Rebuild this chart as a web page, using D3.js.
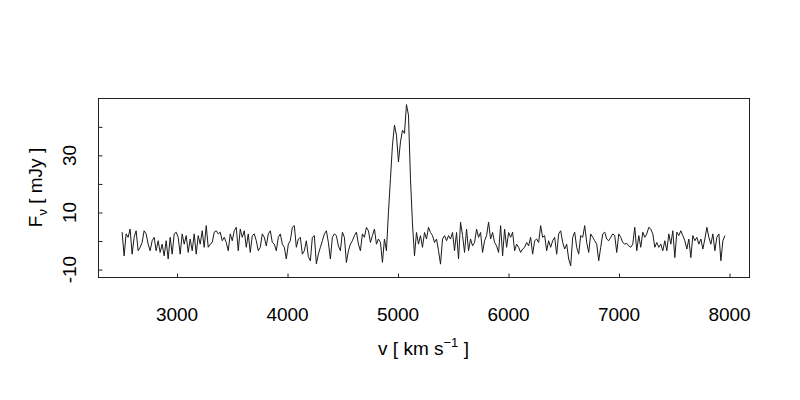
<!DOCTYPE html>
<html><head><meta charset="utf-8">
<script src="https://cdn.jsdelivr.net/npm/d3@7"></script>
<style>
body{margin:0;background:#fff}
svg text{font-family:"Liberation Sans",Arial,Helvetica,sans-serif;fill:#000}
</style>
</head><body>
<svg id="chart" width="800" height="400"></svg>
<script>
// Channel grid of the spectrum (km/s)
const vStart = 2503;
const vStep = 18.123;
// Flux density per channel (mJy)
const flux = [
 3.1,-5.2,2.5,1.3,4.2,-4.6,1.3,3.6,-3.4,-2.2,
 -0.5,3.6,2.5,-1.1,-3.4,0.1,1.3,-3.4,0.1,-4.0,
 -1.1,-5.2,0.1,-6.3,1.3,-4.6,2.5,3.1,1.3,-4.6,
 2.5,-1.1,1.9,-4.0,0.7,-3.4,2.5,-4.6,1.9,-1.1,
 3.6,-2.2,5.4,-2.2,-1.1,-0.5,3.1,3.6,2.5,3.1,
 0.1,1.3,-0.5,-3.4,2.5,0.1,3.6,4.8,-3.4,4.2,
 1.3,3.6,-2.2,2.5,
 -4.0,1.9,2.5,0.1,-3.4,-2.2,2.5,1.3,-1.7,2.5,
 3.6,-0.5,-1.1,-3.4,1.3,2.5,-1.1,-2.2,-6.3,-1.1,
 0.1,4.8,5.4,-2.2,0.7,1.3,-4.6,-3.4,0.1,-5.5,
 -6.9,1.3,1.9,-8.0,-4.6,-2.2,0.1,2.5,3.6,-0.5,
 -6.3,1.3,2.5,1.9,-1.7,-3.4,3.1,1.3,-7.5,-3.4,
 -1.1,0.1,1.9,3.1,-1.1,-3.4,2.5,1.3,4.8,3.6,
 -0.5,1.9,4.2,-1.1,0.7,
 -0.5,-7.5,0.7,-3.4,10.1,21.8,33.6,40.6,37.1,27.7,
 34.7,38.8,37.7,47.8,44.1,21.8,6.0,-5.2,3.0,-1.1,
 1.9,-2.2,3.0,0.7,4.8,3.0,1.9,-0.5,0.7,-3.4,
 -8.1,0.7,1.9,0.1,1.9,0.7,3.0,-3.4,3.0,-6.3,
 6.6,1.9,-4.0,4.2,-3.4,0.7,-1.7,-0.5,4.2,1.3,
 3.0,-4.0,0.1,1.9,6.6,0.7,3.0,-0.5,-1.7,-4.0,
 5.4,-5.2,4.2,-2.2,3.0,
 1.3,3.1,-3.4,-1.1,-2.2,-4.0,-2.8,-2.2,-0.5,-1.7,
 1.3,-4.6,0.1,0.7,-0.5,5.4,1.3,1.9,-3.4,0.1,
 -2.2,0.1,1.3,-4.6,2.5,3.6,-0.5,-2.8,-1.1,-6.3,
 -8.7,1.3,3.1,-2.2,-4.6,1.9,1.3,5.4,-0.5,-4.0,
 2.5,1.3,0.1,-1.1,-6.9,-2.2,2.5,3.1,0.7,0.1,
 1.3,2.5,1.9,-4.0,2.5,1.3,-0.5,-1.1,-0.8,-1.7,
 -2.2,-1.1,4.8,-3.4,1.9,
 -2.2,3.1,1.3,2.5,4.8,4.2,2.5,-2.2,-0.5,-2.2,
 -1.1,-3.4,0.1,-3.4,2.5,-1.1,3.6,-5.8,3.1,1.9,
 3.6,1.9,0.1,-2.8,0.7,-5.8,1.9,0.1,1.3,-1.1,
 0.7,-2.8,0.7,4.8,1.3,-1.1,2.5,-3.4,1.3,2.5,
 -6.9,0.1,1.9
];
const velocity = flux.map((_, i) => vStart + i * vStep);
const xTicks = [3000, 4000, 5000, 6000, 7000, 8000];
const yTicks = [-10, 0, 10, 20, 30, 40];
const yTickLabels = [-10, 10, 30];
const yDomain = [-12.6, 50.1];

const svg = d3.select("#chart");
svg.append("rect").attr("width", 800).attr("height", 400).attr("fill", "#fff");

const L = 98, R = 749, T = 98, B = 277;
const vExt = d3.extent(velocity);
const pad = (vExt[1] - vExt[0]) * 0.04;
const x = d3.scaleLinear().domain([vExt[0] - pad, vExt[1] + pad]).range([L, R]);
const y = d3.scaleLinear().domain(yDomain).range([B, T]);

// spectrum line
const line = d3.line().x((d, i) => x(velocity[i])).y(d => y(d));
svg.append("path").datum(flux)
  .attr("d", line)
  .attr("fill", "none")
  .attr("stroke", "#1a1a1a")
  .attr("stroke-width", 1)
  .attr("stroke-linejoin", "round");

// box
svg.append("rect")
  .attr("x", L + 0.5).attr("y", T + 0.5)
  .attr("width", R - L).attr("height", B - T)
  .attr("fill", "none").attr("stroke", "#222").attr("stroke-width", 1);

// x axis ticks (inward)
svg.append("g").attr("transform", `translate(0,${B + 0.5})`)
  .call(d3.axisBottom(x).tickValues(xTicks).tickSize(-4).tickFormat(""))
  .call(g => { g.select(".domain").remove(); g.selectAll("line").attr("stroke", "#222"); });
svg.append("g").selectAll("text").data(xTicks).join("text")
  .attr("x", d => x(d)).attr("y", 321)
  .attr("text-anchor", "middle").attr("font-size", 19)
  .text(d => d);

// y axis ticks (inward)
svg.append("g").attr("transform", `translate(${L + 0.5},0)`)
  .call(d3.axisLeft(y).tickValues(yTicks).tickSize(-4).tickFormat(""))
  .call(g => { g.select(".domain").remove(); g.selectAll("line").attr("stroke", "#222"); });
svg.append("g").selectAll("text").data(yTickLabels).join("text")
  .attr("transform", d => `translate(76,${y(d)}) rotate(-90)`)
  .attr("text-anchor", "middle").attr("font-size", 19)
  .text(d => d);

// axis titles
const xt = svg.append("text")
  .attr("x", (L + R) / 2).attr("y", 355)
  .attr("text-anchor", "middle").attr("font-size", 19);
xt.append("tspan").text("v [ km s");
xt.append("tspan").attr("font-size", 13).attr("dy", -8).text("\u22121");
xt.append("tspan").attr("dy", 8).text(" ]");

const yt = svg.append("text")
  .attr("transform", `translate(42,${(T + B) / 2}) rotate(-90)`)
  .attr("text-anchor", "middle").attr("font-size", 19);
yt.append("tspan").text("F");
yt.append("tspan").attr("font-size", 13).attr("dy", 5).text("\u03bd");
yt.append("tspan").attr("dy", -5).text(" [ mJy ]");
</script>
</body></html>
